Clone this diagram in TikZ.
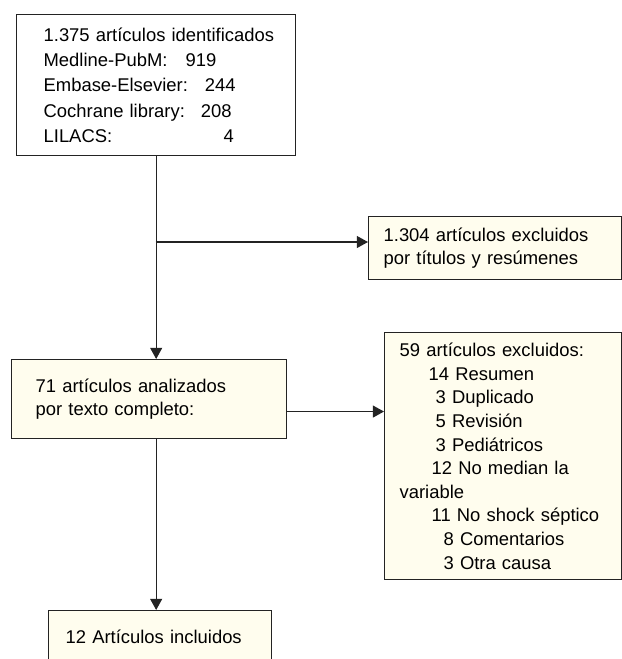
\documentclass[tikz,border=0pt]{standalone}
\usepackage{fontspec}
\setmainfont{Liberation Sans}
\usetikzlibrary{arrows.meta}

\definecolor{cream}{RGB}{255,253,238}
\definecolor{linegray}{RGB}{35,35,35}

\tikzset{
	box/.style={draw=linegray, line width=0.9pt, rectangle, fill=cream,
		inner xsep=0pt, inner ysep=0pt, anchor=north west, align=left,
		font={\fontsize{13.1}{17}\selectfont}},
	pad/.style={execute at begin node={\leftskip=#1}},
	flow/.style={draw=linegray, line width=0.9pt,
		-{Triangle[length=0.28cm,width=0.3cm]}}
}

\begin{document}
\begin{tikzpicture}[x=0.025cm, y=-0.025cm]
	\useasboundingbox (0,0) rectangle (622,659);
	\clip (0,0) rectangle (622,659);

	% boxes
	\node[box, fill=white, pad=0.675cm, text width=6.975cm, minimum height=3.525cm,
		font={\fontsize{13.1}{17.9}\selectfont}]
	(ident) at (16,14) {1.375 artículos identificados\\
		\makebox[3.55cm][l]{Medline-PubM:}919\\
		\makebox[4.03cm][l]{Embase-Elsevier:}244\\
		\makebox[3.93cm][l]{Cochrane library:}208\\
		\makebox[4.5cm][l]{LILACS:}4};

	\node[box, pad=0.375cm, text width=6.325cm, minimum height=1.575cm]
	(excl1) at (368,216) {1.304 artículos excluidos\\
		por títulos y resúmenes};

	\node[box, pad=0.6cm, text width=6.875cm, minimum height=1.975cm]
	(analiz) at (11,359) {71 artículos analizados\\
		por texto completo:};

	\node[box, pad=0.375cm, text width=5.925cm, minimum height=6.175cm,
		font={\fontsize{13.1}{16.8}\selectfont}]
	(excl2) at (384,332) {59 artículos excluidos:\\
		\hspace*{0.725cm}14 Resumen\\
		\hspace*{0.9cm}3 Duplicado\\
		\hspace*{0.9cm}5 Revisión\\
		\hspace*{0.9cm}3 Pediátricos\\
		\hspace*{0.8cm}12 No median la\\
		variable\\
		\hspace*{0.8cm}11 No shock séptico\\
		\hspace*{1.1cm}8 Comentarios\\
		\hspace*{1.1cm}3 Otra causa};

	\node[box, pad=0.425cm, text width=5.575cm, minimum height=1.3cm]
	(incl) at (48,610) {12 Artículos incluidos};

	% connectors
	\coordinate (split) at (155.5,242);
	\coordinate (out2) at ([yshift=-0.31cm]analiz.east);

	\draw[flow] (ident.south) -- (ident.south |- analiz.north);
	\draw[flow] (split) -- (split -| excl1.west);
	\draw[flow] (out2) -- (out2 -| excl2.west);
	\draw[flow] (ident.south |- analiz.south) -- (ident.south |- incl.north);

\end{tikzpicture}
\end{document}
